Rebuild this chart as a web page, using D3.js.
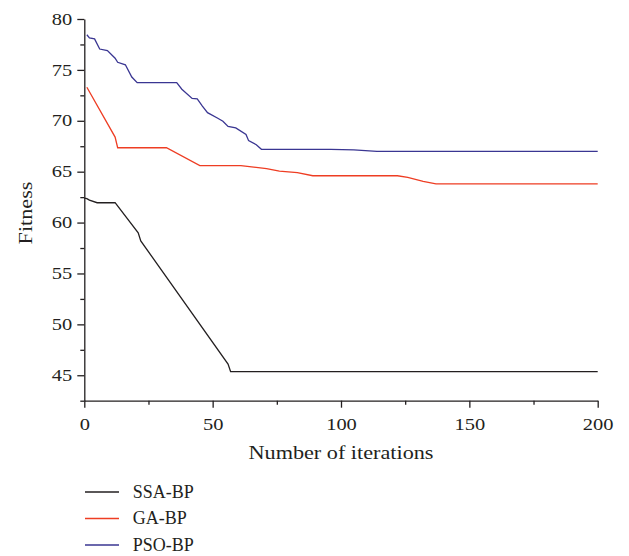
<!DOCTYPE html>
<html>
<head>
    <meta charset="utf-8">
    <title>Fitness</title>
    <script src="https://cdn.jsdelivr.net/npm/d3@7"></script>
    <style type="text/css">
        body { margin: 0; background: #fff; }
        text { font-family: "Liberation Serif", "Times New Roman", serif; fill: #231f20; }
        .axis path, .axis line { stroke: #231f20; stroke-width: 1.3px; }
        .series { fill: none; stroke-width: 1.3px; }
    </style>
</head>
<body>
<script type="text/javascript">
    // values
    var iterSSA = [0, 1, 2, 5, 12, 21, 22, 56, 57, 200];
    var fitSSA = [62.4, 62.35, 62.2, 61.95, 61.95, 59.0, 58.2, 46.1, 45.35, 45.35];

    var iterGA = [1, 12, 13, 32, 45, 61, 66, 71, 76, 83, 89, 122, 126, 132, 137, 200];
    var fitGA = [73.3, 68.4, 67.35, 67.35, 65.6, 65.6, 65.45, 65.3, 65.05, 64.9, 64.6, 64.6, 64.45, 64.05, 63.8, 63.8];

    var iterPSO = [1, 2, 4, 6, 9, 12, 13, 16, 18.5, 20.6, 36, 38, 42, 44, 46, 48, 52, 54, 56, 59, 63, 64, 67, 69, 96, 105, 114, 200];
    var fitPSO = [78.45, 78.15, 78.05, 77.05, 76.9, 76.15, 75.75, 75.5, 74.3, 73.75, 73.75, 73.1, 72.2, 72.15, 71.45, 70.8, 70.25, 69.95, 69.45, 69.3, 68.65, 68.05, 67.65, 67.2, 67.2, 67.15, 67.0, 67.0];

    var seriesNames = ["SSA-BP", "GA-BP", "PSO-BP"];
    var seriesColors = ["#231f20", "#ee3d23", "#3a3692"];

    var xTicks = [0, 50, 100, 150, 200];
    var xMinor = [25, 75, 125, 175];
    var yTicks = [45, 50, 55, 60, 65, 70, 75, 80];
    var yMinor = [42.5, 47.5, 52.5, 57.5, 62.5, 67.5, 72.5, 77.5];

    var width = 629, height = 556;
    var tickScale = 1.28, titleScale = 1.17;

    var x = d3.scaleLinear().domain([0, 200]).range([84.3, 597.7]);
    var y = d3.scaleLinear().domain([42.5, 80]).range([400.7, 19]);

    var svg = d3.select("body").append("svg")
        .attr("width", width)
        .attr("height", height);

    // minor ticks
    svg.append("g").attr("class", "axis")
        .attr("transform", "translate(0," + y(42.5) + ")")
        .call(d3.axisBottom(x).tickValues(xMinor).tickSize(4).tickSizeOuter(0).tickFormat(""))
        .select(".domain").remove();
    svg.append("g").attr("class", "axis")
        .attr("transform", "translate(" + x(0) + ",0)")
        .call(d3.axisLeft(y).tickValues(yMinor).tickSize(4).tickSizeOuter(0).tickFormat(""))
        .select(".domain").remove();

    // major axes
    var gx = svg.append("g").attr("class", "axis")
        .attr("transform", "translate(0," + y(42.5) + ")")
        .call(d3.axisBottom(x).tickValues(xTicks).tickSize(7).tickSizeOuter(0).tickPadding(11));
    gx.selectAll("text")
        .style("font-size", "16px")
        .attr("transform", "scale(" + tickScale + ",1)");

    var gy = svg.append("g").attr("class", "axis")
        .attr("transform", "translate(" + x(0) + ",0)")
        .call(d3.axisLeft(y).tickValues(yTicks).tickSize(7).tickSizeOuter(0).tickPadding(5));
    gy.selectAll("text")
        .style("font-size", "16px")
        .attr("x", -12 / tickScale)
        .attr("transform", "scale(" + tickScale + ",1)");

    svg.selectAll(".axis text").attr("fill", "#231f20");

    // series
    var line = d3.line()
        .x(function (d) { return x(d[0]); })
        .y(function (d) { return y(d[1]); });

    var series = [
        d3.zip(iterSSA, fitSSA),
        d3.zip(iterGA, fitGA),
        d3.zip(iterPSO, fitPSO)
    ];

    svg.selectAll("path.series")
        .data(series)
        .enter().append("path")
        .attr("class", "series")
        .attr("stroke", function (d, i) { return seriesColors[i]; })
        .attr("d", line);

    // axis titles
    svg.append("text")
        .attr("x", 341 / titleScale)
        .attr("y", 459)
        .attr("text-anchor", "middle")
        .attr("transform", "scale(" + titleScale + ",1)")
        .style("font-size", "19px")
        .text("Number of iterations");

    svg.append("text")
        .attr("transform", "translate(32,213) rotate(-90) scale(" + titleScale + ",1)")
        .attr("text-anchor", "middle")
        .style("font-size", "19px")
        .text("Fitness");

    // legend
    var legend = svg.selectAll("g.legend")
        .data(seriesNames)
        .enter().append("g")
        .attr("class", "legend")
        .attr("transform", function (d, i) { return "translate(85," + (492 + i * 26.5) + ")"; });

    legend.append("line")
        .attr("x1", 0).attr("x2", 34)
        .attr("stroke-width", 1.3)
        .attr("stroke", function (d, i) { return seriesColors[i]; });

    legend.append("text")
        .attr("x", 47.7)
        .attr("y", 5.5)
        .style("font-size", "18px")
        .text(function (d) { return d; });
</script>
</body>
</html>
